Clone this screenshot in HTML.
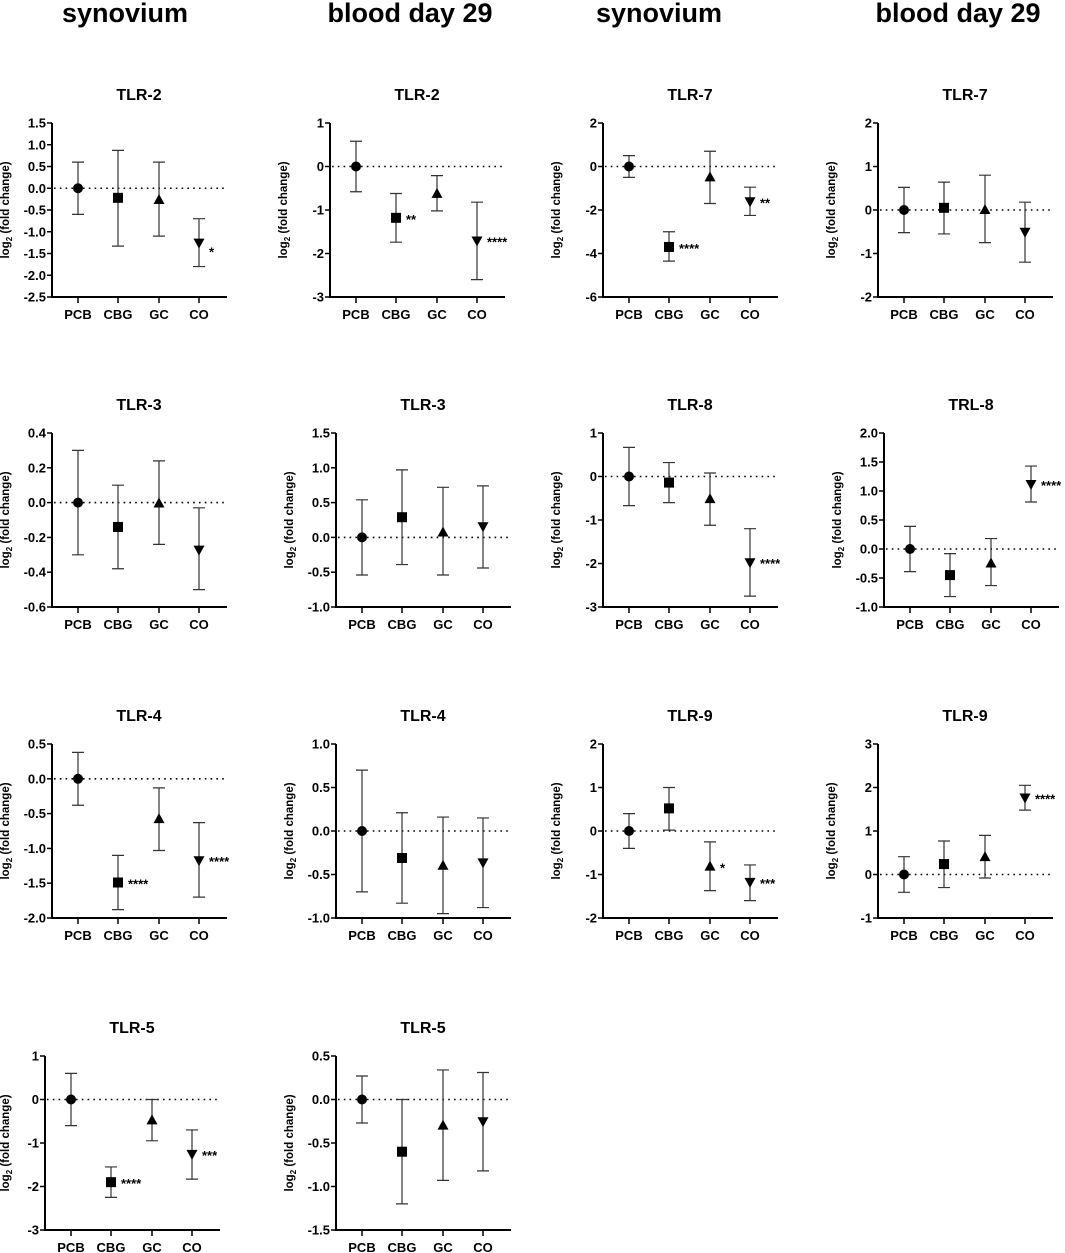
<!DOCTYPE html>
<html><head><meta charset="utf-8">
<style>
body{margin:0;background:#fff;}
svg{display:block;font-family:"Liberation Sans",Arial,sans-serif;}
.hdr{font-size:27px;font-weight:bold;}
.ttl{font-size:16px;font-weight:bold;}
.tk{font-size:13px;font-weight:bold;}
.xl{font-size:13px;font-weight:bold;}
.yl{font-size:11.5px;font-weight:bold;}
.st{font-size:13px;font-weight:bold;}
</style></head>
<body>
<svg id="fig" width="1065" height="1253" viewBox="0 0 1065 1253">
<text class="hdr" x="125" y="22" text-anchor="middle">synovium</text>
<text class="hdr" x="410" y="22" text-anchor="middle">blood day 29</text>
<text class="hdr" x="659" y="22" text-anchor="middle">synovium</text>
<text class="hdr" x="958" y="22" text-anchor="middle">blood day 29</text>
</svg>
<script>
const categories = ["PCB","CBG","GC","CO"];
const titles = ["TLR-2","TLR-2","TLR-7","TLR-7","TLR-3","TLR-3","TLR-8","TRL-8","TLR-4","TLR-4","TLR-9","TLR-9","TLR-5","TLR-5"];
const yMin = [-2.5,-3,-6,-2,-0.6,-1.0,-3,-1.0,-2.0,-1.0,-2,-1,-3,-1.5];
const yMax = [1.5,1,2,2,0.4,1.5,1,2.0,0.5,1.0,2,3,1,0.5];
const yStep = [0.5,1,2,1,0.2,0.5,1,0.5,0.5,0.5,1,1,1,0.5];
const means = [
 [0,-0.22,-0.27,-1.25],[0,-1.18,-0.63,-1.7],[0,-3.7,-0.5,-1.6],[0,0.05,0,-0.5],
 [0,-0.14,-0.005,-0.27],[0,0.29,0.07,0.16],[0,-0.14,-0.52,-1.97],[0,-0.45,-0.25,1.12],
 [0,-1.49,-0.58,-1.17],[0,-0.31,-0.4,-0.36],[0,0.52,-0.82,-1.17],[0,0.24,0.4,1.77],
 [0,-1.9,-0.48,-1.25],[0,-0.6,-0.3,-0.25]];
const errHi = [
 [0.6,0.87,0.6,-0.7],[0.58,-0.62,-0.21,-0.82],[0.5,-3.0,0.7,-0.95],[0.52,0.64,0.8,0.18],
 [0.3,0.1,0.24,-0.03],[0.54,0.97,0.72,0.74],[0.67,0.32,0.08,-1.2],[0.39,-0.08,0.18,1.43],
 [0.38,-1.1,-0.13,-0.63],[0.7,0.21,0.16,0.15],[0.4,1.0,-0.25,-0.78],[0.41,0.77,0.9,2.05],
 [0.6,-1.55,0,-0.7],[0.27,0,0.34,0.31]];
const errLo = [
 [-0.6,-1.33,-1.1,-1.8],[-0.58,-1.74,-1.02,-2.6],[-0.5,-4.35,-1.7,-2.25],[-0.52,-0.55,-0.75,-1.2],
 [-0.3,-0.38,-0.24,-0.5],[-0.54,-0.39,-0.54,-0.44],[-0.67,-0.6,-1.12,-2.75],[-0.39,-0.82,-0.63,0.81],
 [-0.38,-1.88,-1.03,-1.7],[-0.7,-0.83,-0.95,-0.88],[-0.4,0.02,-1.37,-1.6],[-0.41,-0.3,-0.08,1.48],
 [-0.6,-2.25,-0.95,-1.83],[-0.27,-1.2,-0.93,-0.82]];
const stars = [
 ["","","","*"],["","**","","****"],["","****","","**"],["","","",""],
 ["","","",""],["","","",""],["","","","****"],["","","","****"],
 ["","****","","****"],["","","",""],["","","*","***"],["","","","****"],
 ["","****","","***"],["","","",""]];

const NS="http://www.w3.org/2000/svg";
const svg=document.getElementById('fig');
const axX=[[52,330,603,878],[52,336,603,884],[52,336,603,878],[45,336,603,878]];
const rowTop=[123,433,744,1056];
const H=174, W=175;
const catOff=[26,66,107,147];
function mk(tag,attrs,parent){const e=document.createElementNS(NS,tag);for(const k in attrs)e.setAttribute(k,attrs[k]);(parent||svg).appendChild(e);return e;}

for(let p=0;p<titles.length;p++){
  const r=Math.floor(p/4), c=p%4;
  const x0=axX[r][c], top=rowTop[r], bot=top+H;
  const g=mk('g',{});
  
  
  const ys=v=>bot-(v-yMin[p])/(yMax[p]-yMin[p])*H;
  const xs=i=>x0+catOff[i];
  const t=mk('text',{class:'ttl',x:x0+87,y:top-23,'text-anchor':'middle'},g);
  t.textContent=titles[p];
  
  
  const ya=mk('line',{x1:x0,y1:top,x2:x0,y2:bot+1,stroke:'#000','stroke-width':2},g);
  
  
  const xa=mk('line',{x1:x0-1,y1:bot,x2:x0+W,y2:bot,stroke:'#000','stroke-width':2},g);
  
  
  const dec=yStep[p]<1?1:0;
  const n=Math.round((yMax[p]-yMin[p])/yStep[p]);
  for(let k=0;k<=n;k++){
    const v=yMin[p]+k*yStep[p], y=ys(v);
    mk('line',{x1:x0-5,y1:y,x2:x0,y2:y,stroke:'#000','stroke-width':1.5},g);
    const tl=mk('text',{class:'tk',x:x0-6,y:y+4.5,'text-anchor':'end'},g);
    tl.textContent=(Math.abs(v)<1e-9?0:v).toFixed(dec);
    
    
  }
  const yl=mk('text',{class:'yl',transform:`translate(${x0-(r===3&&c===0?36:43)},${top+H/2}) rotate(-90)`,'text-anchor':'middle'},g);
  yl.innerHTML='log<tspan font-size="8" dy="3">2</tspan><tspan dy="-3"> (fold change)</tspan>';
  
  
  const z=mk('line',{x1:x0+2,y1:ys(0),x2:x0+W,y2:ys(0),stroke:'#000','stroke-width':1.6,'stroke-dasharray':'1.6,4.2'},g);
  
  
  for(let i=0;i<4;i++){
    const x=xs(i);
    mk('line',{x1:x,y1:bot,x2:x,y2:bot+6,stroke:'#000','stroke-width':1.5},g);
    const xl=mk('text',{class:'xl',x:x,y:bot+22,'text-anchor':'middle'},g);
    xl.textContent=categories[i];
    
    
    const yh=ys(errHi[p][i]), yl2=ys(errLo[p][i]), ym=ys(means[p][i]);
    const eb=mk('path',{d:`M${x},${yh}V${yl2}M${x-6},${yh}H${x+6}M${x-6},${yl2}H${x+6}`,stroke:'#333','stroke-width':1.2,fill:'none'},g);
    
    
    let m;
    if(i===0) m=mk('circle',{cx:x,cy:ym,r:5,fill:'#000'},g);
    else if(i===1) m=mk('rect',{x:x-5,y:ym-5,width:10,height:10,fill:'#000'},g);
    else if(i===2) m=mk('path',{d:`M${x},${ym-6}L${x+5.5},${ym+4}L${x-5.5},${ym+4}Z`,fill:'#000'},g);
    else m=mk('path',{d:`M${x},${ym+6}L${x+5.5},${ym-4}L${x-5.5},${ym-4}Z`,fill:'#000'},g);
    
    
    if(stars[p][i]){
      const s=mk('text',{class:'st',x:x+10,y:ym+(stars[p][i]==='*'&&p===0?14:6)},g);
      s.textContent=stars[p][i];
      
      
    }
  }
}
</script>
</body></html>
